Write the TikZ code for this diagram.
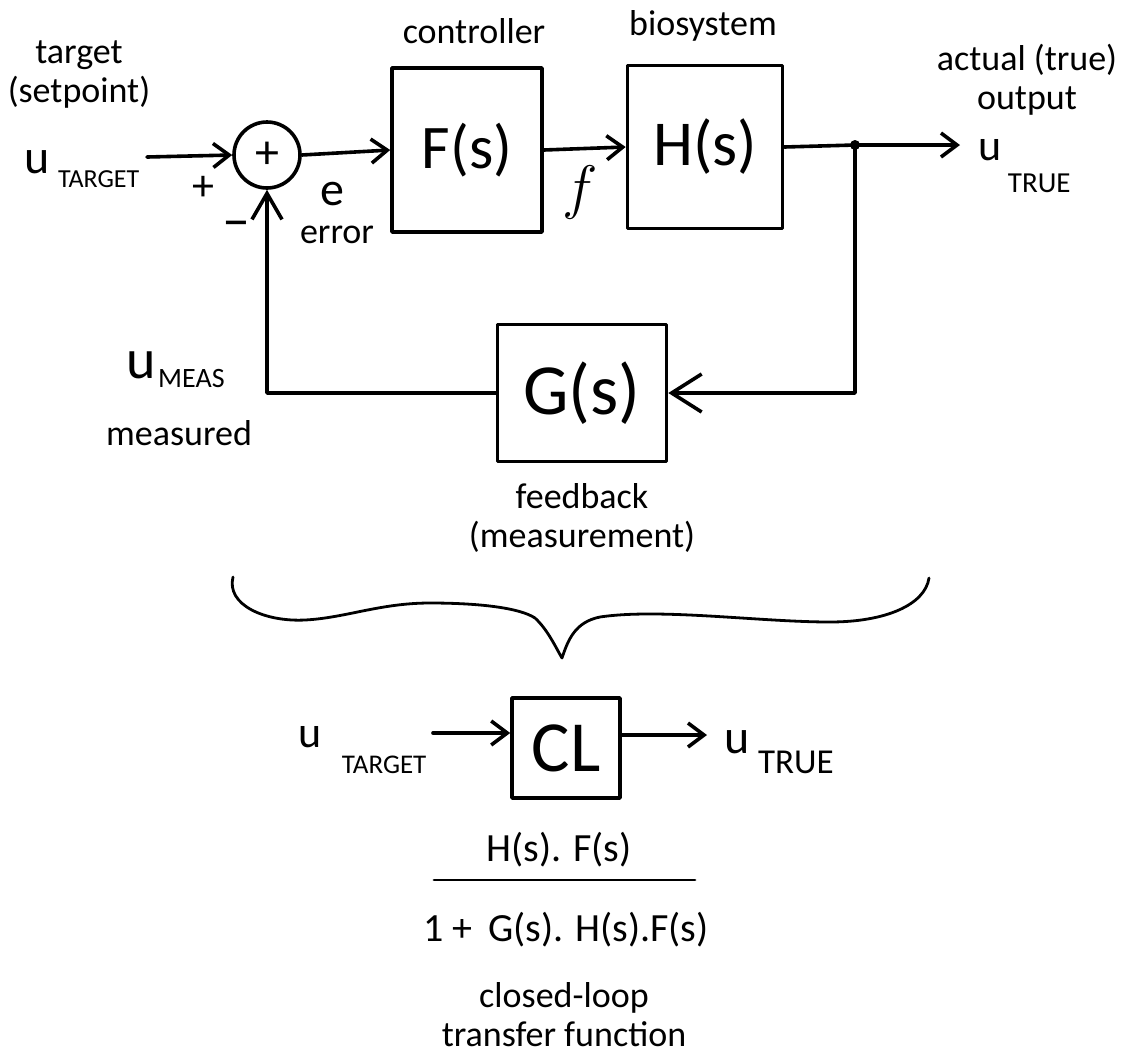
\RequirePackage{fix-cm}
\documentclass[tikz,border=0pt]{standalone}
\usepackage{fontspec}
\setmainfont{Carlito}
\usetikzlibrary{arrows.meta}

\newcommand{\lowsub}[3]{\raisebox{-#1}{\fontsize{#2}{#2}\selectfont #3}}

\begin{document}
\begin{tikzpicture}[x=0.5pt, y=-0.5pt, line width=1.8pt, line cap=round, line join=round,
              every node/.style = {inner sep=0pt, align=center, font=\fontsize{18}{19.5}\selectfont},
              hand/.style = {font=\fontsize{#1}{#1}\selectfont},
              block/.style = {draw, rectangle},
              sum/.style = {draw, circle, minimum size=33pt, hand=24},
              flow/.style = {-{Straight Barb[length=8pt, width=12pt]}}]
  \useasboundingbox (0,0) rectangle (1121,1057);

  % loop
  \node[sum] (sum) at (267,155) {+};
  \node[block, minimum width=75pt, minimum height=82pt, hand=31] (F) at (467,150) {F(s)};
  \node[block, minimum width=77.5pt, minimum height=81.5pt, hand=32] (H) at (705,147) {H(s)};
  \node[block, minimum width=84.5pt, minimum height=68.5pt, hand=36] (G) at (582,393) {G(s)};
  \node[circle, fill, minimum size=5pt] (split) at (855,145) {};
  \coordinate (tgt) at (147,157);
  \coordinate (out) at (960,145);

  \draw[flow] (tgt) -- (sum.west);
  \draw[flow] (sum.east) -- (F.west);
  \draw[flow] (F.east) -- (H.west);
  \draw (H.east) -- (split.center);
  \draw[flow] (split.center) -- (out);
  \draw[-{Straight Barb[length=15pt, width=19pt]}] (split.center) |- (G.east);
  \draw[-{Straight Barb[length=13pt, width=15pt]}] (G.west) -| (sum.south);

  % signals
  \node[anchor=base west, hand=24] (utgt) at (23,173) {u\hspace{4pt}\lowsub{7pt}{13}{TARGET}};
  \node[anchor=base west, hand=22] (utrue) at (977,160) {u\hspace{3pt}\lowsub{16pt}{14.5}{TRUE}};
  \node[anchor=base west, hand=28] (umeas) at (125,378) {u\hspace{1pt}\lowsub{4.5pt}{14}{MEAS}};
  \node[hand=22] (plus) at (203,188) {+};
  \node[hand=28] (minus) at (236,230) {\textendash};
  \node[hand=24] (e) at (332,194) {e};
  \node[hand=30] (f) at (580,192) {$f$};

  % labels
  \node (target) at (79,75) {target\\(setpoint)};
  \node[anchor=base] (ctrl) at (474,43) {controller};
  \node[anchor=base] (bio) at (703,35) {biosystem};
  \node (actual) at (1027,80) {actual (true)\\output};
  \node[anchor=base] (err) at (337,243) {error};
  \node[anchor=base] (meas) at (179,445) {measured};
  \node (fb) at (582,518) {feedback\\(measurement)};

  % brace
  \draw[line width=1.4pt] (233,577) .. controls (226,605) and (265,622) .. (305,620)
    .. controls (345,618) and (380,603) .. (430,603)
    .. controls (480,603) and (520,608) .. (535,618)
    .. controls (548,630) and (556,648) .. (562,658)
    .. controls (568,640) and (575,622) .. (600,617)
    .. controls (660,608) and (760,622) .. (830,622)
    .. controls (885,622) and (925,605) .. (929,578);

  % closed loop
  \node[block, minimum width=54pt, minimum height=50pt, hand=36] (CL) at (566,748) {CL};
  \coordinate (tgt2) at (433,733);
  \coordinate (out2) at (707,735);
  \draw[flow] (tgt2) -- (CL.west |- tgt2);
  \draw[flow] (CL.east |- out2) -- (out2);
  \node[anchor=base west, hand=22] (utgt2) at (297,747) {u\hspace{10pt}\lowsub{13pt}{13.5}{TARGET}};
  \node[anchor=base west, hand=24] (utrue2) at (723,753) {u\hspace{4pt}\lowsub{10pt}{17.5}{TRUE}};

  \node[hand=20] (num) at (559,850) {H(s). F(s)};
  \draw[line width=1.4pt] (434,880) -- (695,880);
  \node[hand=20] (den) at (566,930) {1 + \,G(s). H(s).F(s)};
  \node (cltf) at (564,1015) {closed-loop\\transfer function};
\end{tikzpicture}
\end{document}
